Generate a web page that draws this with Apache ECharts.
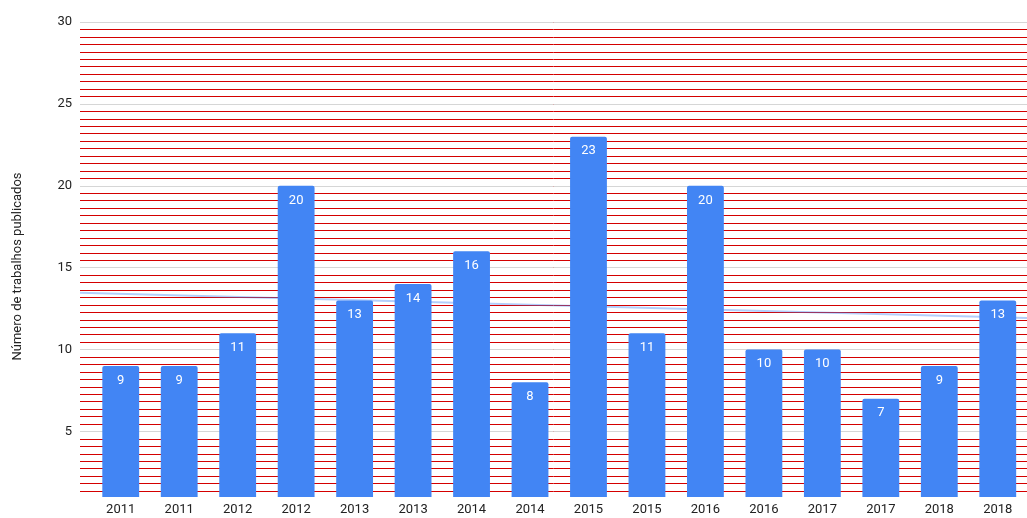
<!DOCTYPE html>
<html>
<head>
<meta charset="utf-8">
<script src="https://cdn.jsdelivr.net/npm/echarts@6/dist/echarts.min.js"></script>
<style>
  html, body { margin: 0; padding: 0; background: #ffffff; }
  #chart { width: 1027px; height: 518px; }
</style>
</head>
<body>
<div id="chart"></div>
<script>
// Publications per half-year
const categories = ['2011', '2011', '2012', '2012', '2013', '2013', '2014', '2014',
                    '2015', '2015', '2016', '2016', '2017', '2017', '2018', '2018'];
const publications = [9, 9, 11, 20, 13, 14, 16, 8, 23, 11, 20, 10, 10, 7, 9, 13];
const yTickLabels = [5, 10, 15, 20, 25, 30];
const yTitle = 'Número de trabalhos publicados';

// Value range of the y axis and number of minor steps per major step
const Y_MIN = 1, Y_MAX = 30, Y_STEP = 5, MINOR_PER_STEP = 11;

// Layout
const PLOT_LEFT = 80, PLOT_WIDTH = 947;
const BAR_LEFT = 91.5, BAR_AREA_WIDTH = 937;
const PLOT_TOP = 22, PLOT_HEIGHT = 475;
const FONT = 'Roboto, "Liberation Sans", Arial, sans-serif';

// Least-squares trend over the category index
function linearTrend(values) {
  const n = values.length;
  let sx = 0, sy = 0, sxy = 0, sxx = 0;
  values.forEach((v, i) => { sx += i; sy += v; sxy += i * v; sxx += i * i; });
  const slope = (n * sxy - sx * sy) / (n * sxx - sx * sx);
  const intercept = (sy - slope * sx) / n;
  return x => intercept + slope * x;
}
const trend = linearTrend(publications);

// The trend line spans the whole plot, expressed in category-index units
const band = BAR_AREA_WIDTH / categories.length;
const trendXMin = -0.5 - (BAR_LEFT - PLOT_LEFT) / band;
const trendXMax = trendXMin + PLOT_WIDTH / band;
const trendPoints = [[trendXMin, trend(trendXMin)], [trendXMax, trend(trendXMax)]];

const chart = echarts.init(document.getElementById('chart'), null, { renderer: 'canvas' });

chart.setOption({
  animation: false,
  backgroundColor: '#ffffff',
  textStyle: { fontFamily: FONT },
  grid: [
    // gridlines, y labels, trend line
    { left: PLOT_LEFT, width: PLOT_WIDTH, top: PLOT_TOP, height: PLOT_HEIGHT },
    // bars and category labels
    { left: BAR_LEFT, width: BAR_AREA_WIDTH, top: PLOT_TOP, height: PLOT_HEIGHT }
  ],
  xAxis: [
    {
      gridIndex: 0, type: 'value', min: trendXMin, max: trendXMax, show: false
    },
    {
      gridIndex: 1, type: 'category', data: categories,
      axisLine: { show: false }, axisTick: { show: false },
      axisLabel: { color: '#222222', fontSize: 13, margin: 6, fontFamily: FONT, interval: 0 },
      splitLine: { show: false }
    }
  ],
  yAxis: [
    {
      // labelled axis with the major gridlines
      gridIndex: 0, type: 'value', min: Y_MIN, max: Y_MAX,
      splitNumber: 6, minInterval: Y_STEP, maxInterval: Y_STEP, z: 2,
      name: yTitle, nameLocation: 'middle', nameGap: 56, nameRotate: 90,
      nameTextStyle: { color: '#222222', fontSize: 13, fontFamily: FONT, padding: [0, 14, 0, 0] },
      axisLine: { show: false }, axisTick: { show: false },
      axisLabel: {
        color: '#222222', fontSize: 13, margin: 8, fontFamily: FONT, showMinLabel: false,
        formatter: v => (yTickLabels.indexOf(v) >= 0 ? String(v) : '')
      },
      splitLine: { show: true, showMinLine: false, lineStyle: { color: '#d6d6d6', width: 1 } }
    },
    {
      // minor gridlines, in units of one minor step
      gridIndex: 0, type: 'value',
      min: Y_MIN * MINOR_PER_STEP, max: Y_MAX * MINOR_PER_STEP,
      splitNumber: 64, minInterval: Y_STEP, maxInterval: Y_STEP, z: 1,
      axisLine: { show: false }, axisTick: { show: false }, axisLabel: { show: false },
      splitLine: { show: true, showMinLine: false, lineStyle: { color: '#d40000', width: 1 } }
    },
    {
      gridIndex: 1, type: 'value', min: Y_MIN, max: Y_MAX, show: false,
      splitLine: { show: false }
    }
  ],
  series: [
    {
      name: 'Tendência',
      type: 'line',
      xAxisIndex: 0, yAxisIndex: 0,
      data: trendPoints,
      symbol: 'none',
      z: 1,
      silent: true,
      lineStyle: { color: 'rgba(66,133,244,0.4)', width: 2 }
    },
    {
      name: yTitle,
      type: 'bar',
      xAxisIndex: 1, yAxisIndex: 2,
      data: publications,
      barCategoryGap: '37%',
      z: 3,
      itemStyle: { color: '#4285f4', borderRadius: [2, 2, 0, 0] },
      label: {
        show: true, position: 'insideTop', distance: 8,
        color: '#ffffff', fontSize: 13, fontFamily: FONT
      }
    }
  ]
});
</script>
</body>
</html>
